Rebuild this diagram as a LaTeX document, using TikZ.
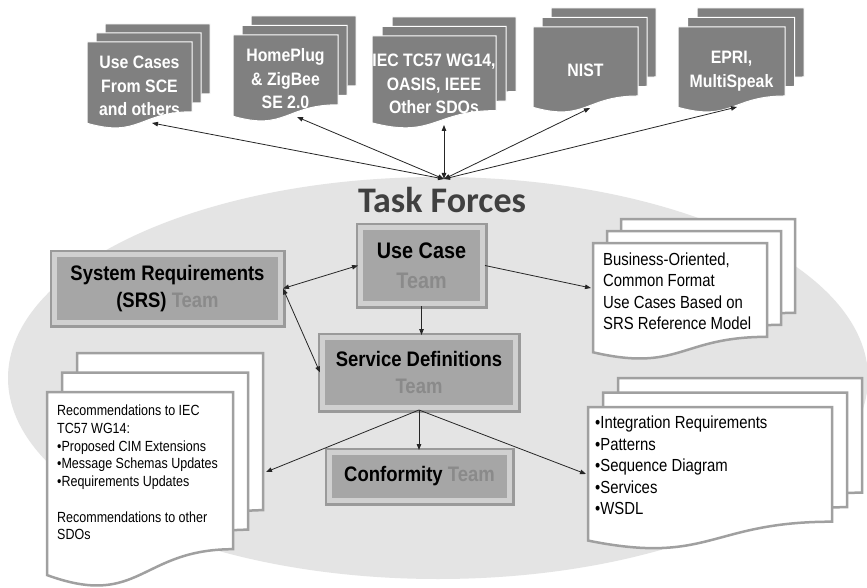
\documentclass[tikz,border=0pt]{standalone}
\usepackage{fontspec}
\setmainfont{Liberation Sans}
\newfontfamily\condfont{Liberation Sans}[FakeStretch=0.88]
\newfontfamily\narrowfont{Liberation Sans}[FakeStretch=0.85]
\newfontfamily\taskfont{Carlito}
\usetikzlibrary{arrows.meta,calc}
\definecolor{ellfill}{HTML}{E4E4E4}
\definecolor{darkdoc}{HTML}{808080}
\definecolor{teamfill}{HTML}{A6A6A6}
\definecolor{teamframe}{HTML}{D0D0D0}
\definecolor{teamshadow}{HTML}{9A9A9A}
\definecolor{teamgrey}{HTML}{8A8A8A}
\definecolor{docline}{HTML}{A0A0A0}
\definecolor{taskgrey}{HTML}{404040}
\newcommand\mydoc[5]{\path[#5] ({#1},{#2}) -- ({#1+#3},{#2}) -- ({#1+#3},{#2+0.802*#4}) .. controls ({#1+0.5*#3},{#2+0.802*#4}) and ({#1+0.5*#3},{#2+1.107*#4}) .. ({#1},{#2+0.934*#4}) -- cycle;}
% x y w h dx dy style
\newcommand\mymultidoc[7]{%
  \mydoc{#1+2*#5}{#2-2*#6}{#3}{#4}{#7}%
  \mydoc{#1+#5}{#2-#6}{#3}{#4}{#7}%
  \mydoc{#1}{#2}{#3}{#4}{#7}}
\tikzset{
  darkdocstyle/.style={fill=darkdoc, draw=white, line width=1pt},
  whitedocstyle/.style={fill=white, draw=docline, line width=2.5pt},
  darktext/.style={text=white, font=\condfont\bfseries\fontsize{18}{23.5}\selectfont, align=center, inner sep=0pt},
  whitetext/.style={text=black, font=\narrowfont\fontsize{17.5}{21.5}\selectfont, align=left, inner sep=0pt, anchor=north west},
  smalltext/.style={text=black, font=\narrowfont\fontsize{14.7}{17.7}\selectfont, align=left, inner sep=0pt, anchor=north west},
  teambox/.style={fill=teamfill, draw=teamframe, line width=5pt, inner sep=0pt, align=center,
    font=\condfont\bfseries\fontsize{21}{27}\selectfont,
    preaction={draw=teamshadow, line width=10pt}},
  conn/.style={draw=black!85, line width=0.8pt, >={Triangle[length=6pt,width=4.5pt]}},
}
\begin{document}
\begin{tikzpicture}[x=1pt,y=-1pt]
\useasboundingbox (0,0) rectangle (867,588);
\fill[white] (0,0) rectangle (867,588);
% big ellipse
\fill[ellfill] (438,378) ellipse [x radius=430pt, y radius=201pt];
\node[text=taskgrey, font=\taskfont\bfseries\fontsize{36}{40}\selectfont, inner sep=0pt] (title) at (442,200) {Task Forces};

% top dark documents
\mymultidoc{87}{42}{105}{87}{9}{9}{darkdocstyle}
\mymultidoc{233}{35}{105}{87}{9}{9.5}{darkdocstyle}
\mymultidoc{372}{36}{124}{93}{10}{9.5}{darkdocstyle}
\mymultidoc{533}{27}{105}{86}{9}{9.5}{darkdocstyle}
\mymultidoc{678}{27}{107}{86}{9.5}{9.5}{darkdocstyle}
\node[darktext] (t1) at (139.5,86) {Use Cases\\From SCE\\and others};
\node[darktext] (t2) at (285.5,79) {HomePlug\\\& ZigBee\\SE 2.0};
\node[darktext] (t3) at (434,84) {IEC TC57 WG14,\\OASIS, IEEE\\Other SDOs};
\node[darktext] (t4) at (585.5,70) {NIST};
\node[darktext] (t5) at (731.5,71) {EPRI,\\MultiSpeak};

% white documents
\mymultidoc{593}{243}{174}{117}{14}{12}{whitedocstyle}
\mymultidoc{47}{392}{186}{196}{15}{19.5}{whitedocstyle}
\mymultidoc{588}{407}{244}{143}{15}{14.5}{whitedocstyle}
\node[whitetext] (biz) at (603,252.5) {Business-Oriented,\\Common Format\\Use Cases Based on\\SRS Reference Model};
\node[smalltext] (rec) at (57,405) {Recommendations to IEC\\TC57 WG14:\\\textbullet Proposed CIM Extensions\\\textbullet Message Schemas Updates\\\textbullet Requirements Updates\\[17.7pt]Recommendations to other\\SDOs};
\node[whitetext] (intg) at (595,416) {\textbullet Integration Requirements\\\textbullet Patterns\\\textbullet Sequence Diagram\\\textbullet Services\\\textbullet WSDL};

% team boxes
\node[teambox, minimum width=226pt, minimum height=68pt] (srs) at (167.5,288.5) {System Requirements\\(SRS) \textcolor{teamgrey}{Team}};
\node[teambox, minimum width=122pt, minimum height=76pt, font=\condfont\bfseries\fontsize{22.5}{30}\selectfont] (uc) at (421.5,265.5) {Use Case\\\textcolor{teamgrey}{Team}};
\node[teambox, minimum width=193pt, minimum height=70pt] (sd) at (419,372.5) {Service Definitions\\\textcolor{teamgrey}{Team}};
\node[teambox, minimum width=180pt, minimum height=48pt] (conf) at (419.5,476.5) {Conformity \textcolor{teamgrey}{Team}};

% connector endpoints
\coordinate (hub) at (444,179);
\coordinate (e1) at (152,123);
\coordinate (e2) at (297,117);
\coordinate (e3) at (444,125);
\coordinate (e4) at (590,108);
\coordinate (e5) at (737,107);
\coordinate (bizin) at (591,288);
\coordinate (leftin) at (266,472);
\coordinate (rightin) at (586,474);

\draw[conn,<->] (hub) -- (e1);
\draw[conn,<->] (hub) -- (e2);
\draw[conn,<->] (hub) -- (e3);
\draw[conn,<->] (hub) -- (e4);
\draw[conn,<->] (hub) -- (e5);

\draw[conn,<->] (srs.east) -- (uc.west);
\draw[conn,<->] (srs.east) -- (sd.west);
\draw[conn,->] (uc.south) -- (uc.south |- sd.north);
\draw[conn,->] (uc.east) -- (bizin);
\draw[conn,->] (sd.south) -- (leftin);
\draw[conn,->] (sd.south) -- (sd.south |- conf.north);
\draw[conn,->] (sd.south) -- (rightin);
\end{tikzpicture}
\end{document}
